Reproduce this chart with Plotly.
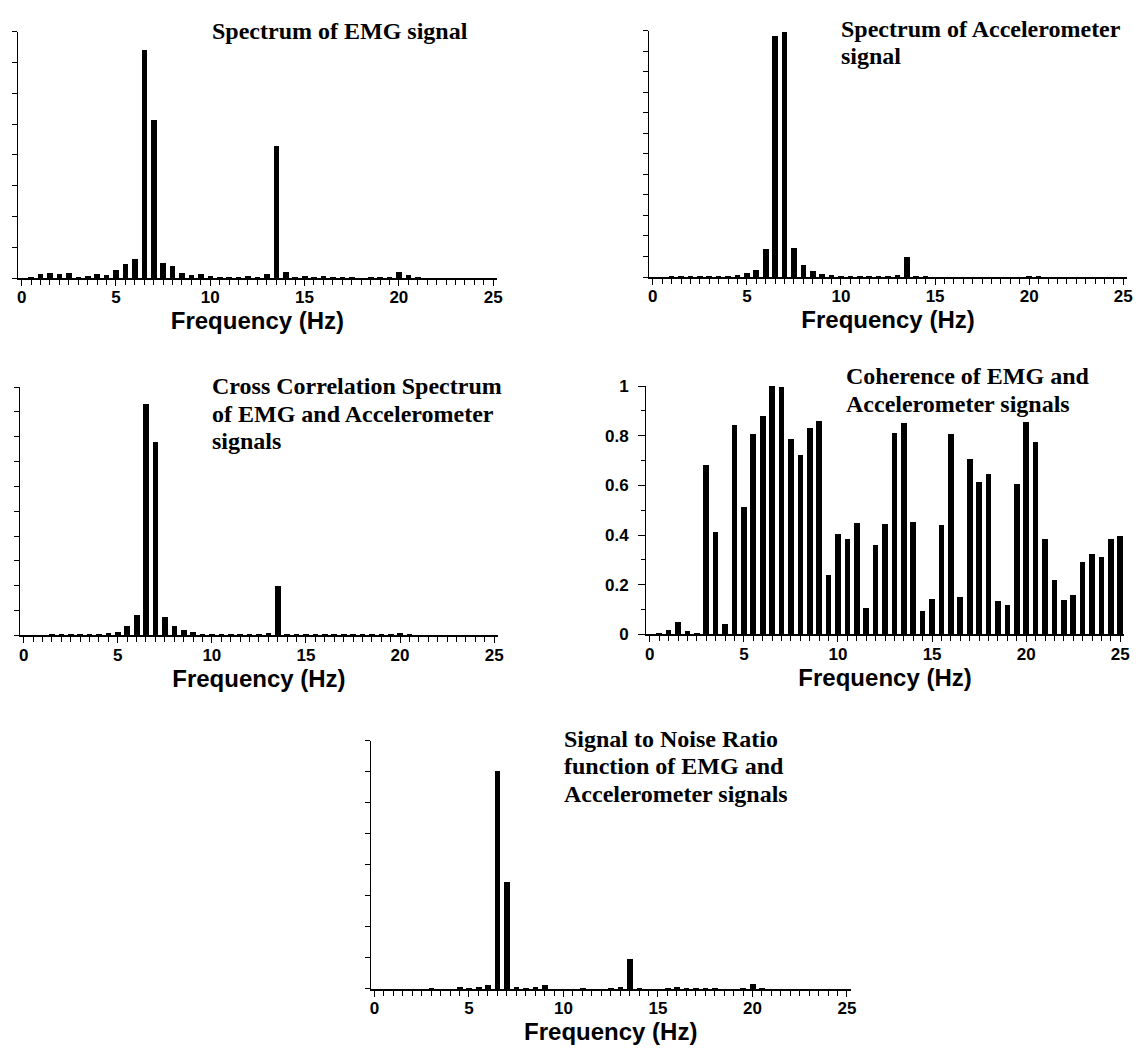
import plotly.graph_objects as go

W, H = 1141, 1050

# ---------------- data ----------------
freq = [0.5, 1.0, 1.5, 2.0, 2.5, 3.0, 3.5, 4.0, 4.5, 5.0,
        5.5, 6.0, 6.5, 7.0, 7.5, 8.0, 8.5, 9.0, 9.5, 10.0,
        10.5, 11.0, 11.5, 12.0, 12.5, 13.0, 13.5, 14.0, 14.5, 15.0,
        15.5, 16.0, 16.5, 17.0, 17.5, 18.0, 18.5, 19.0, 19.5, 20.0,
        20.5, 21.0, 21.5, 22.0, 22.5, 23.0, 23.5, 24.0, 24.5, 25.0]

emg_spectrum = [0.03, 0.16, 0.18, 0.13, 0.19, 0.04, 0.08, 0.13, 0.10, 0.29,
                0.47, 0.64, 7.42, 5.13, 0.50, 0.39, 0.19, 0.12, 0.14, 0.09,
                0.05, 0.06, 0.05, 0.09, 0.06, 0.16, 4.30, 0.20, 0.05, 0.09,
                0.06, 0.09, 0.02, 0.02, 0.02, 0.01, 0.03, 0.05, 0.06, 0.21,
                0.11, 0.03, 0.01, 0.01, 0.01, 0.01, 0.01, 0.01, 0.01, 0.01]

acc_spectrum = [0.01, 0.03, 0.03, 0.03, 0.03, 0.03, 0.05, 0.08, 0.13, 0.21,
                0.38, 1.38, 11.78, 11.97, 1.43, 0.59, 0.30, 0.17, 0.11, 0.08,
                0.08, 0.06, 0.06, 0.06, 0.06, 0.10, 1.00, 0.05, 0.03, 0.02,
                0.02, 0.02, 0.02, 0.02, 0.02, 0.02, 0.02, 0.02, 0.02, 0.08,
                0.03, 0.02, 0.02, 0.02, 0.02, 0.02, 0.02, 0.02, 0.02, 0.02]

cross_spectrum = [0.01, 0.01, 0.02, 0.02, 0.02, 0.05, 0.05, 0.05, 0.09, 0.15,
                  0.38, 0.84, 9.30, 7.78, 0.73, 0.38, 0.21, 0.13, 0.07, 0.05,
                  0.04, 0.03, 0.03, 0.03, 0.04, 0.09, 1.99, 0.05, 0.02, 0.02,
                  0.02, 0.03, 0.02, 0.02, 0.02, 0.02, 0.02, 0.02, 0.02, 0.10,
                  0.06, 0.01, 0.01, 0.01, 0.01, 0.01, 0.01, 0.01, 0.01, 0.01]

coherence = [0.007, 0.017, 0.049, 0.013, 0.005, 0.681, 0.414, 0.040, 0.844, 0.513,
             0.805, 0.881, 1.000, 0.997, 0.786, 0.722, 0.831, 0.860, 0.240, 0.405,
             0.385, 0.449, 0.106, 0.358, 0.445, 0.811, 0.852, 0.454, 0.094, 0.144,
             0.439, 0.806, 0.152, 0.708, 0.615, 0.644, 0.133, 0.119, 0.606, 0.854,
             0.774, 0.385, 0.218, 0.140, 0.157, 0.290, 0.325, 0.311, 0.385, 0.396]

snr = [0.01, 0.01, 0.01, 0.01, 0.01, 0.04, 0.01, 0.01, 0.08, 0.03,
       0.07, 0.14, 7.05, 3.45, 0.07, 0.05, 0.08, 0.13, 0.01, 0.01,
       0.01, 0.03, 0.01, 0.01, 0.02, 0.08, 0.99, 0.02, 0.01, 0.01,
       0.03, 0.08, 0.02, 0.05, 0.04, 0.05, 0.01, 0.01, 0.02, 0.19,
       0.06, 0.01, 0.01, 0.01, 0.01, 0.01, 0.01, 0.01, 0.01, 0.01]

x_tick_vals = [0, 5, 10, 15, 20, 25]
x_axis_title = "Frequency (Hz)"

titles = [
    ["Spectrum of EMG signal"],
    ["Spectrum of Accelerometer", "signal"],
    ["Cross Correlation Spectrum", "of EMG and Accelerometer", "signals"],
    ["Coherence of EMG and", "Accelerometer signals"],
    ["Signal to Noise Ratio", "function of EMG and", "Accelerometer signals"],
]

# ---------------- layout geometry (pixels) ----------------
# (left, right, top, bottom) of each plot area
boxes = [
    (17, 499, 23, 274),
    (652, 1133, 22, 273),
    (19, 500, 385, 638),
    (649, 1130, 384, 637),
    (372, 855, 745, 998),
]
y_tops = [8, 12, 10, 1, 8]
title_pos = [  # left x, line centre ys
    (210, [22]),
    (843, [20, 48]),
    (210, [384, 412, 440]),
    (848, [374, 402]),
    (564, [743, 771, 799]),
]

series = [emg_spectrum, acc_spectrum, cross_spectrum, coherence, snr]

SANS = "Liberation Sans, Arial, sans-serif"
SERIF = "Liberation Serif, Times New Roman, serif"

fig = go.Figure()
layout = dict(
    width=W, height=H,
    margin=dict(l=0, r=0, t=0, b=0),
    paper_bgcolor="white", plot_bgcolor="white",
    showlegend=False, bargap=0,
)
annotations = []

for i, (vals, box, ytop) in enumerate(zip(series, boxes, y_tops)):
    n = "" if i == 0 else str(i + 1)
    l, r, t, b = box
    fig.add_trace(go.Bar(
        x=freq, y=vals, width=0.3,
        marker=dict(color="black", line=dict(width=0)),
        xaxis="x" + n, yaxis="y" + n,
        hoverinfo="x+y",
    ))
    layout["xaxis" + n] = dict(
        domain=[l / W, r / W], anchor="y" + n,
        range=[-0.2, 25.2],
        showline=True, linecolor="black", linewidth=1.5,
        showgrid=False, zeroline=False,
        tickmode="array", tickvals=x_tick_vals,
        ticks="outside", ticklen=6, tickwidth=1, tickcolor="black",
        ticklabelstandoff=-3,
        minor=dict(dtick=0.5, tick0=0, ticks="outside", ticklen=5,
                   tickwidth=1, tickcolor="black", showgrid=False),
        tickfont=dict(family=SANS, size=17, color="black", weight="bold"),
        title=dict(text=x_axis_title,
                   font=dict(family=SANS, size=24, color="black", weight="bold"),
                   standoff=0),
    )
    ya = dict(
        domain=[1 - b / H, 1 - t / H], anchor="x" + n,
        range=[0, ytop],
        showline=True, linecolor="black", linewidth=1,
        showgrid=False, zeroline=False,
        ticks="outside", ticklen=5, tickwidth=1, tickcolor="black",
    )
    if ytop == 1:
        ya.update(dtick=0.2, tick0=0, ticklen=7, showticklabels=True,
                  ticklabelstandoff=6,
                  minor=dict(dtick=0.1, tick0=0, ticks="outside", ticklen=4,
                             tickwidth=1, tickcolor="black", showgrid=False),
                  tickfont=dict(family=SANS, size=17, color="black", weight="bold"))
    else:
        ya.update(dtick=1, tick0=0, showticklabels=False)
    layout["yaxis" + n] = ya

    tx, tys = title_pos[i]
    for line, ty in zip(titles[i], tys):
        annotations.append(dict(
            text=line, xref="paper", yref="paper",
            x=tx / W, y=1 - ty / H, xanchor="left", yanchor="middle",
            showarrow=False,
            font=dict(family=SERIF, size=24, color="black", weight="bold"),
        ))

layout["annotations"] = annotations
fig.update_layout(**layout)
fig.write_html("out.html")
